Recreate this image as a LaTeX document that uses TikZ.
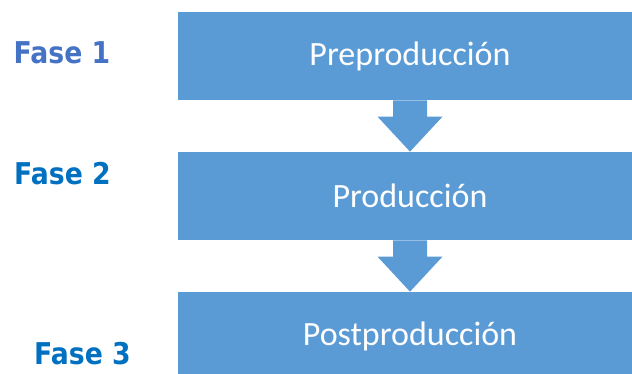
\documentclass[tikz,border=0pt]{standalone}
\usepackage{fontspec}
\setmainfont{Carlito}
\newfontfamily\fasefont{DejaVu Sans}
\usetikzlibrary{calc}
\definecolor{cajaazul}{HTML}{5B9BD5}
\definecolor{faseuno}{HTML}{4472C4}
\definecolor{fasedos}{HTML}{0070C0}
\newcommand{\estrecho}[1]{\scalebox{0.89}[1]{#1}}

\tikzset{every picture/.style={line width=0.75pt}}
\tikzset{
  caja/.style={fill=cajaazul, text=white, minimum width=464pt, minimum height=88pt,
    inner sep=0pt, font=\fontsize{34}{40}\selectfont},
  fase/.style={font=\fasefont\bfseries\fontsize{30}{34}\selectfont, inner sep=0pt}
}

\begin{document}
\begin{tikzpicture}[x=1pt,y=-1pt]
        \useasboundingbox (0,0) rectangle (632,373);
        \node[caja] (pre) at (410,56) {Preproducción};
        \node[caja] (pro) at (410,196) {Producción};
        \node[caja] (post) at (410,336) {Postproducción};
        \node[fase,text=faseuno] (f1) at (62,53) {\estrecho{Fase 1}};
        \node[fase,text=fasedos] (f2) at (62.5,173.5) {\estrecho{Fase 2}};
        \node[fase,text=fasedos] (f3) at (82.5,354) {\estrecho{Fase 3}};
        \foreach \a/\b in {pre/pro, pro/post}
            \fill[cajaazul] ($(\a.south)+(-17,0)$) -- ($(\a.south)+(17,0)$)
                -- ($(\b.north)+(17,-35)$) -- ($(\b.north)+(32.5,-35)$) -- (\b.north)
                -- ($(\b.north)+(-32.5,-35)$) -- ($(\b.north)+(-17,-35)$) -- cycle;
    \end{tikzpicture}
\end{document}
